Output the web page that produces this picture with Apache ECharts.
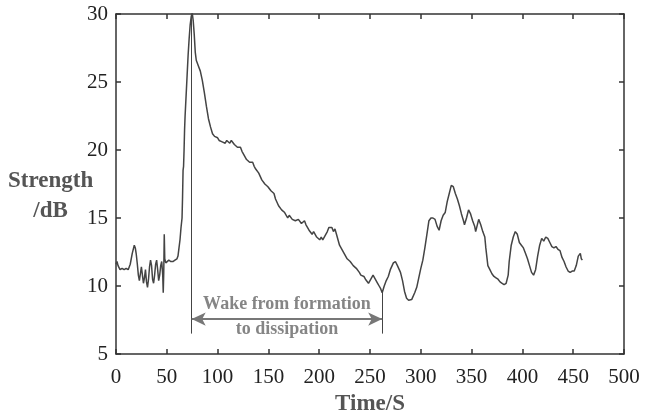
<!DOCTYPE html>
<html>
<head>
<meta charset="utf-8">
<script src="https://cdn.jsdelivr.net/npm/echarts@6/dist/echarts.min.js"></script>
<style>html,body{margin:0;padding:0;background:#fff;}#c{width:649px;height:414px;}</style>
</head>
<body>
<div id="c"></div>
<script>
const xTicks = [0, 50, 100, 150, 200, 250, 300, 350, 400, 450, 500];
const yTicks = [5, 10, 15, 20, 25, 30];
const times = [0,1,2,4,6,8,10,12,14,16,18,19,20,21,22,23,24,25,26,27,28,29,30,31,32,33,34,35,36,37,38,39,40,41,42,43,44,45,46,46.5,47,47.5,48,49,50,52,54,56,58,60,61,62,63,64,65,65.5,66,66.5,67,67.5,68,69,70,71,72,73,74,75,76,77,78,79,81,83,85,87,89,91,93,95,97,
  100,101.5,103,104.5,106,107.5,109,110.5,112,113.5,115,116.5,118,119.5,121,122.5,124,125.5,127,128.5,130,131.5,133,134.5,136,137.5,139,140.5,142,143.5,145,146.5,148,149.5,151,152.5,154,155.5,157,158.5,160,161.5,163,164.5,166,167.5,169,170.5,172,173.5,175,176.5,178,179.5,181,182.5,184,185.5,187,188.5,190,191.5,193,194.5,196,197.5,199,200.5,202,203.5,205,206.5,208,209.5,211,212.5,214,215.5,217,218.5,220,221.5,223,224.5,226,227.5,229,230.5,232,233.5,235,236.5,238,239.5,241,242.5,244,245.5,247,248.5,250,251.5,253,254.5,256,257.5,259,260.5,262,
  264,266,268,270,273,275,277,280,282,284,286,288,291,294,296,298,300,302,304,306,308,310,312,314,316,318,320,322,324,326,328,330,332,334,336,338,340,342,343,345,347,349,351,353,354,356,357,359,361,363,364,366,368,370,372,374,376,378,380,382,384,386,387,389,391,393,395,397,399,401,403,405,407,409,411,413,415,417,419,421,423,425,427,429,431,433,435,437,439,441,443,445,447,449,451,453,455,457,458,459];
const strength = [11.6,11.8,11.5,11.2,11.3,11.2,11.3,11.2,11.6,12.4,13.0,12.8,12.3,11.6,10.8,10.4,10.9,11.4,10.8,10.2,10.6,11.2,10.3,9.9,10.5,11.4,11.9,11.5,10.5,10.2,10.8,11.6,11.9,11.2,10.4,10.8,11.5,11.8,10.8,9.5,11.0,13.8,12.0,11.7,11.8,11.9,11.8,11.8,11.9,12.0,12.2,12.8,13.4,14.3,15.0,16.5,18.5,18.8,20.0,21.5,22.5,24.0,25.5,27.0,28.2,29.2,29.8,30.1,29.5,28.5,27.2,26.6,26.2,25.8,25.1,24.2,23.2,22.3,21.7,21.2,21.0,
  20.9,20.7,20.8,20.6,20.7,20.5,20.7,20.6,20.5,20.7,20.6,20.4,20.5,20.2,20.1,20.2,19.9,19.7,19.6,19.3,19.4,19.1,19.0,19.1,18.8,18.6,18.6,18.3,18.3,17.8,17.7,17.5,17.6,17.3,17.4,17.0,17.1,16.8,16.4,16.3,15.9,15.9,15.6,15.7,15.4,15.3,15.0,15.2,15.2,14.9,15.0,14.8,14.7,14.9,14.8,14.6,14.7,14.8,14.5,14.4,14.1,14.2,13.8,14.0,13.9,13.6,13.5,13.4,13.6,13.4,13.6,13.8,14.0,14.3,14.2,14.3,14.0,14.2,13.8,13.4,13.0,12.9,12.6,12.4,12.3,12.0,12.0,11.8,11.7,11.5,11.5,11.3,11.2,11.0,10.8,10.9,10.7,10.5,10.4,10.2,10.3,10.6,10.8,10.7,10.4,10.2,10.0,9.8,9.5,
  10.0,10.4,10.7,11.2,11.7,11.8,11.5,11.0,10.4,9.6,9.1,8.95,9.0,9.5,9.9,10.6,11.3,11.9,12.8,13.8,14.8,15.0,15.0,14.9,14.4,14.1,14.8,15.2,15.4,16.2,16.8,17.4,17.3,16.8,16.4,15.9,15.3,14.8,14.5,15.0,15.6,15.3,14.8,14.4,14.0,14.6,14.9,14.5,14.0,13.6,12.8,11.5,11.2,10.9,10.7,10.6,10.5,10.3,10.2,10.1,10.2,10.8,11.8,13.0,13.6,14.0,13.8,13.2,13.0,12.8,12.4,12.0,11.5,11.0,10.8,11.2,12.2,13.0,13.5,13.3,13.6,13.5,13.2,12.9,12.8,12.9,12.7,12.6,12.1,11.8,11.4,11.1,11.0,11.1,11.1,11.5,12.2,12.4,12.0,11.9];
const wakeStart = 74.5, wakeEnd = 262;
const wakeTopStart = 30, wakeTopEnd = 9.6, wakeBottom = 6.5, arrowY = 7.57;
const noteLines = ['Wake from formation', 'to dissipation'];
const noteY = [8.65, 6.8];

const seriesData = times.map((t, i) => [t, strength[i]]);
const noteX = (wakeStart + wakeEnd) / 2;
const noteData = noteLines.map((s, i) => ({ name: s, value: [noteX, noteY[i]] }));

const serif = 'Liberation Serif, Times New Roman, serif';
const axisCol = '#333';
const chart = echarts.init(document.getElementById('c'), null, { renderer: 'canvas' });
const baseX = {
  type: 'value', min: 0, max: 500, interval: 50,
  axisLine: { show: true, onZero: false, lineStyle: { color: axisCol, width: 1.5 } },
  axisTick: { show: true, inside: true, length: 5, lineStyle: { color: axisCol, width: 1.5 } },
  splitLine: { show: false }
};
const baseY = {
  type: 'value', min: 5, max: 30, interval: 5,
  axisLine: { show: true, onZero: false, lineStyle: { color: axisCol, width: 1.5 } },
  axisTick: { show: true, inside: true, length: 5, lineStyle: { color: axisCol, width: 1.5 } },
  splitLine: { show: false }
};
chart.setOption({
  animation: false,
  backgroundColor: '#fff',
  grid: { left: 116, right: 25, top: 14, bottom: 60, containLabel: false, outerBoundsMode: 'none' },
  xAxis: [
    Object.assign({}, baseX, {
      position: 'bottom',
      name: 'Time/S', nameLocation: 'middle', nameGap: 36,
      nameTextStyle: { fontFamily: serif, fontWeight: 'bold', fontSize: 23, color: '#555' },
      axisLabel: { margin: 13, fontFamily: serif, fontSize: 21, color: '#222',
        formatter: v => xTicks.includes(v) ? String(v) : '' }
    }),
    Object.assign({}, baseX, { position: 'top', axisLabel: { show: false } })
  ],
  yAxis: [
    Object.assign({}, baseY, {
      position: 'left',
      axisLabel: { margin: 8, fontFamily: serif, fontSize: 21, color: '#222',
        formatter: v => yTicks.includes(v) ? String(v) : '' }
    }),
    Object.assign({}, baseY, { position: 'right', axisLabel: { show: false } })
  ],
  graphic: [{
    type: 'text', left: 8, top: 166,
    style: { text: 'Strength\n/dB', textAlign: 'center', font: 'bold 23px ' + serif, fill: '#555', lineHeight: 30, x: 43 }
  }],
  series: [
    {
      type: 'line', data: seriesData, showSymbol: false, symbol: 'none',
      lineStyle: { color: '#444', width: 1.5 },
      markLine: {
        silent: true, symbol: 'none', label: { show: false },
        data: [
          [{ coord: [wakeStart, wakeTopStart] }, { coord: [wakeStart, wakeBottom] }],
          [{ coord: [wakeEnd, wakeTopEnd] }, { coord: [wakeEnd, wakeBottom] }]
        ],
        lineStyle: { color: '#444', width: 1, type: 'solid' }
      }
    },
    {
      type: 'line', data: [], silent: true,
      markLine: {
        silent: true, symbol: ['arrow', 'arrow'], symbolSize: [10, 14], label: { show: false },
        data: [[{ coord: [wakeStart, arrowY] }, { coord: [wakeEnd, arrowY] }]],
        lineStyle: { color: '#777', width: 2, type: 'solid' }
      }
    },
    {
      type: 'scatter', data: noteData, symbolSize: 0, silent: true,
      label: { show: true, position: 'inside', formatter: p => p.name,
        fontFamily: serif, fontWeight: 'bold', fontSize: 18, color: '#666' }
    }
  ]
});
</script>
</body>
</html>
